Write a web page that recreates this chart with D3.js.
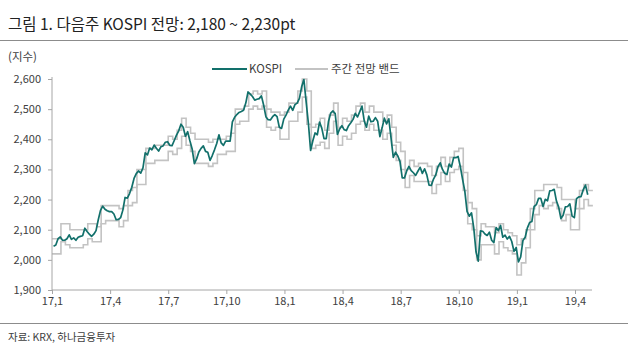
<!DOCTYPE html>
<html>
<head>
<meta charset="utf-8">
<script src="https://cdn.jsdelivr.net/npm/d3@7"></script>
<style>
  html, body { margin: 0; padding: 0; background: #fff; }
  svg { display: block; }
  text { font-family: "Noto Sans CJK KR", "Noto Sans", sans-serif; }
</style>
</head>
<body>
<svg id="chart" width="628" height="357"></svg>
<script>
// ---- data (weekly; week 0 = week of 2017-01-02) ----
const titleText = "그림 1. 다음주 KOSPI 전망: 2,180 ~ 2,230pt";
const unitText = "(지수)";
const sourceText = "자료: KRX, 하나금융투자";
const seriesNames = ["KOSPI", "주간 전망 밴드"];

const xTickLabels = ["17,1","17,4","17,7","17,10","18,1","18,4","18,7","18,10","19,1","19,4"];
const xTickWeeks = [0,13,26,39,52,65,78,91,104,117];
const yTicks = [1900,2000,2100,2200,2300,2400,2500,2600];

// KOSPI: mid-week and week-end levels
const kospiMid = [
  2045,2070,2065,2070,2068,2065,2078,2105,2085,2085,
  2133,2178,2163,2160,2133,2140,2207,2220,2270,2295,
  2305,2348,2365,2370,2375,2390,2380,2396,2428,2440,
  2425,2368,2335,2370,2360,2330,2365,2415,2380,2394,
  2458,2482,2492,2520,2550,2530,2535,2513,2465,2475,
  2475,2436,2480,2510,2515,2536,2598,2454,2395,2415,
  2437,2402,2487,2485,2434,2432,2445,2466,2474,2510,
  2440,2458,2472,2409,2470,2468,2340,2345,2272,2295,
  2296,2280,2307,2302,2248,2268,2309,2300,2283,2308,
  2339,2309,2228,2145,2106,1996,2095,2081,2065,2107,
  2114,2082,2078,2028,1993,2064,2106,2127,2183,2204,
  2201,2229,2234,2175,2148,2177,2145,2203,2210,2248
];
const kospiClose = [
  2049,2076,2065,2083,2073,2075,2080,2094,2078,2097,
  2164,2168,2160,2152,2134,2165,2205,2241,2286,2288,
  2355,2371,2381,2361,2378,2392,2379,2414,2450,2410,
  2395,2319,2358,2378,2357,2346,2386,2388,2394,2394,
  2473,2489,2496,2557,2542,2533,2544,2475,2464,2482,
  2440,2467,2497,2496,2520,2574,2525,2363,2421,2457,
  2402,2459,2494,2416,2445,2429,2455,2486,2492,2461,
  2477,2460,2460,2438,2451,2404,2357,2326,2272,2310,
  2289,2294,2287,2282,2247,2282,2322,2287,2318,2339,
  2343,2267,2161,2156,2027,2096,2086,2092,2057,2097,
  2075,2069,2061,2041,2010,2075,2124,2177,2204,2177,
  2196,2230,2195,2137,2176,2186,2140,2209,2233,2216
];
// weekly forecast band
const bandUpper = [
  2070,2070,2120,2120,2100,2100,2100,2100,2120,2120,
  2110,2180,2180,2180,2180,2170,2180,2230,2240,2300,
  2300,2370,2370,2380,2380,2380,2410,2400,2430,2470,
  2440,2420,2400,2400,2400,2390,2400,2400,2400,2410,
  2420,2500,2500,2510,2550,2560,2550,2560,2500,2490,
  2490,2480,2490,2520,2520,2560,2600,2560,2440,2450,
  2470,2430,2480,2520,2440,2470,2460,2480,2510,2520,
  2490,2510,2490,2490,2460,2480,2440,2390,2360,2300,
  2330,2310,2320,2320,2310,2280,2310,2340,2310,2340,
  2360,2370,2290,2190,2170,2080,2120,2110,2110,2090,
  2120,2100,2090,2080,2050,2070,2100,2170,2230,2230,
  2250,2250,2250,2240,2200,2200,2200,2170,2230,2250,
  2230
];
const bandLower = [
  2020,2020,2060,2050,2040,2040,2040,2050,2070,2060,
  2060,2120,2130,2130,2130,2110,2130,2180,2190,2250,
  2250,2320,2320,2330,2330,2330,2360,2350,2370,2410,
  2380,2360,2320,2320,2320,2310,2320,2350,2350,2360,
  2360,2450,2460,2460,2500,2510,2500,2510,2440,2430,
  2440,2400,2400,2460,2460,2490,2540,2450,2370,2380,
  2390,2370,2420,2460,2380,2410,2400,2420,2450,2460,
  2430,2450,2430,2430,2400,2420,2380,2330,2300,2240,
  2280,2260,2260,2260,2260,2220,2250,2290,2260,2290,
  2300,2310,2230,2120,2100,2000,2050,2050,2050,2020,
  2060,2040,2030,2020,1950,1990,2040,2100,2150,2180,
  2170,2180,2190,2170,2130,2150,2100,2100,2170,2200,
  2180
];

// ---- layout ----
const svg = d3.select("#chart");
const W = 628;
const plot = { left: 52, right: 592, top: 79, bottom: 290 };

const x = d3.scaleLinear().domain([0, 117]).range([52, 575]);
const y = d3.scaleLinear().domain([1900, 2600]).range([plot.bottom, plot.top]);

const kospiColor = "#12706b";
const bandColor = "#c3c3c3";
const axisColor = "#a6a6a6";
const textColor = "#404040";

// title
svg.append("text").attr("x", 8).attr("y", 30)
  .attr("font-size", 15.5).attr("fill", "#222")
  .text(titleText);
svg.append("line").attr("x1", 0).attr("x2", W).attr("y1", 40.5).attr("y2", 40.5)
  .attr("stroke", "#8c8c8c").attr("stroke-width", 1.2);

svg.append("text").attr("x", 8).attr("y", 61)
  .attr("font-size", 11.5).attr("fill", textColor).text(unitText);

// legend
const lg = svg.append("g");
lg.append("line").attr("x1", 212).attr("x2", 247).attr("y1", 69).attr("y2", 69)
  .attr("stroke", kospiColor).attr("stroke-width", 2);
lg.append("text").attr("x", 249).attr("y", 73).attr("font-size", 11.5)
  .attr("fill", textColor).text(seriesNames[0]);
lg.append("line").attr("x1", 295).attr("x2", 328).attr("y1", 69).attr("y2", 69)
  .attr("stroke", bandColor).attr("stroke-width", 2);
lg.append("text").attr("x", 331).attr("y", 73).attr("font-size", 11.5)
  .attr("fill", textColor).text(seriesNames[1]);

// band step lines
const weeks = d3.range(bandUpper.length + 1);
const stepLine = d3.line().curve(d3.curveStepAfter)
  .x(d => x(d.w)).y(d => y(d.v));
function bandPts(arr) {
  return weeks.map(w => ({ w: w, v: arr[Math.min(w, arr.length - 1)] }));
}
svg.append("path").datum(bandPts(bandUpper)).attr("d", stepLine)
  .attr("fill", "none").attr("stroke", bandColor).attr("stroke-width", 1.6);
svg.append("path").datum(bandPts(bandLower)).attr("d", stepLine)
  .attr("fill", "none").attr("stroke", bandColor).attr("stroke-width", 1.6);

// KOSPI line
const kPts = [];
kospiMid.forEach((v, i) => {
  kPts.push({ w: i + 0.35, v: v });
  kPts.push({ w: i + 0.85, v: kospiClose[i] });
});
const kLine = d3.line().x(d => x(d.w)).y(d => y(d.v));
svg.append("path").datum(kPts).attr("d", kLine)
  .attr("fill", "none").attr("stroke", kospiColor).attr("stroke-width", 1.7)
  .attr("stroke-linejoin", "round");

// axes
const yAxis = d3.axisLeft(y).tickValues(yTicks).tickSize(4).tickPadding(7)
  .tickFormat(d3.format(","));
const gy = svg.append("g").attr("transform", `translate(${plot.left},0)`).call(yAxis);
gy.select(".domain").remove();
gy.append("line").attr("x1", 0).attr("x2", 0).attr("y1", plot.top - 2).attr("y2", plot.bottom)
  .attr("stroke", axisColor);
gy.selectAll(".tick line").attr("stroke", axisColor);
gy.selectAll(".tick text").attr("font-size", 11).attr("fill", textColor)
  .attr("font-family", "'Noto Sans CJK KR', sans-serif");

const xAxis = d3.axisBottom(x).tickValues(xTickWeeks).tickSize(4).tickPadding(3)
  .tickFormat((d, i) => xTickLabels[i]);
const gx = svg.append("g").attr("transform", `translate(0,${plot.bottom})`).call(xAxis);
gx.select(".domain").remove();
gx.append("line").attr("x1", plot.left).attr("x2", plot.right).attr("y1", 0).attr("y2", 0)
  .attr("stroke", axisColor);
gx.selectAll(".tick line").attr("stroke", axisColor);
gx.selectAll(".tick text").attr("font-size", 11).attr("fill", textColor)
  .attr("font-family", "'Noto Sans CJK KR', sans-serif");

// source
svg.append("line").attr("x1", 0).attr("x2", W).attr("y1", 323.5).attr("y2", 323.5)
  .attr("stroke", "#8c8c8c").attr("stroke-width", 1.2);
svg.append("text").attr("x", 8).attr("y", 341)
  .attr("font-size", 10.5).attr("fill", textColor).text(sourceText);
</script>
</body>
</html>
